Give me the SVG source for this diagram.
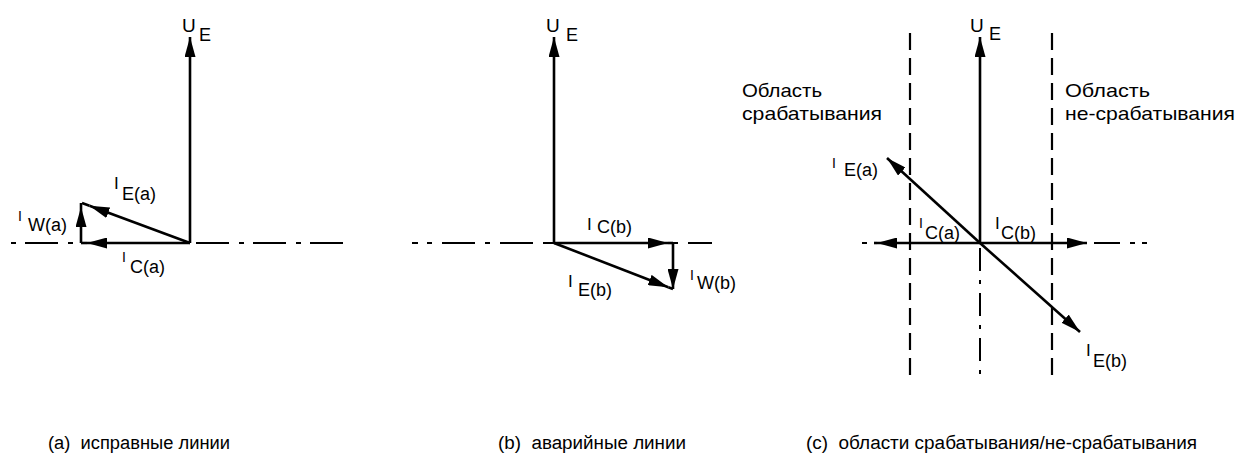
<svg xmlns="http://www.w3.org/2000/svg" width="1241" height="473" viewBox="0 0 1241 473">
<style>
.v{stroke:#000;stroke-width:2.6;fill:none}
.ax{stroke:#000;stroke-width:2;fill:none}
.dd{stroke-dasharray:33 9 5 10}
.dd2{stroke-dasharray:23 9 4 9}
.dsh{stroke:#000;stroke-width:2.2;fill:none;stroke-dasharray:17 8}
text{font-family:"Liberation Sans",Arial,sans-serif;fill:#000}
.l{font-size:18px}
.u{font-size:19px}
.i{font-size:17px}
.s{font-size:14px}
.r{font-size:19px}
.c{font-size:18px}
</style>
<defs>
<marker id="ah" viewBox="0 0 20 11" markerWidth="20" markerHeight="11" refX="20" refY="5.5" orient="auto" markerUnits="userSpaceOnUse">
<path d="M0,0 L20,5.5 L0,11 z" fill="#000"/>
</marker>
</defs>
<rect width="1241" height="473" fill="#fff"/>

<g id="axes">
<path class="ax dd" d="M343,243 H10"/>
<path class="ax" d="M412,243 h6 M427,243 h5 M442,243 h33 M485,243 h5 M500,243 h33 M543,243 h11 M673,243 h5 M688,243 h24"/>
<path class="ax" d="M862,243 h5 M1094,243 H1120 M1130,243 h5 M1142,243 H1147"/>
<path class="ax dd2" d="M980,248 V383"/>
<path class="dsh" d="M910,33 V383"/>
<path class="dsh" d="M1052,33 V383"/>
</g>

<g id="connectors">
<path class="v" d="M190,243 V37" marker-end="url(#ah)"/>
<path class="v" d="M190,243 H87" marker-end="url(#ah)"/>
<path class="v" d="M87,243 H81"/>
<path class="v" d="M81,243 V207" marker-end="url(#ah)"/>
<path class="v" d="M81,207 V203"/>
<path class="v" d="M190,243 L89.5,205.8" marker-end="url(#ah)"/>
<path class="v" d="M89.5,205.8 L82,203"/>
<path class="v" d="M554,243 V37" marker-end="url(#ah)"/>
<path class="v" d="M554,243 H668" marker-end="url(#ah)"/>
<path class="v" d="M668,243 H673"/>
<path class="v" d="M673,243 V289" marker-end="url(#ah)"/>
<path class="v" d="M554,243 L668.3,287.2" marker-end="url(#ah)"/>
<path class="v" d="M668.3,287.2 L673,289"/>
<path class="v" d="M980,243 V37" marker-end="url(#ah)"/>
<path class="v" d="M980,243 H877" marker-end="url(#ah)"/>
<path class="v" d="M877,243 H874"/>
<path class="v" d="M980,243 H1087" marker-end="url(#ah)"/>
<path class="v" d="M980,243 L887,158" marker-end="url(#ah)"/>
<path class="v" d="M980,243 L1080,332" marker-end="url(#ah)"/>
</g>

<g id="labels-a">
<text class="u" x="182" y="32">U</text><text class="l" x="199" y="41">E</text>
<text class="i" x="114" y="189">I</text><text class="l" x="122" y="200">E(a)</text>
<text class="s" x="18" y="221">I</text><text class="l" x="28" y="231">W(a)</text>
<text class="s" x="122" y="262">I</text><text class="l" x="130" y="273">C(a)</text>
</g>

<g id="labels-b">
<text class="u" x="546" y="32">U</text><text class="l" x="566" y="41">E</text>
<text class="i" x="587" y="230">I</text><text class="l" x="597" y="233">C(b)</text>
<text class="i" x="568" y="287">I</text><text class="l" x="578" y="296">E(b)</text>
<text class="s" x="690" y="280">I</text><text class="l" x="697" y="289">W(b)</text>
</g>

<g id="labels-c">
<text class="u" x="970" y="32">U</text><text class="l" x="989" y="40">E</text>
<text class="s" x="832" y="168">I</text><text class="l" x="844" y="176">E(a)</text>
<text class="s" x="919" y="228">I</text><text class="l" x="925" y="239">C(a)</text>
<text class="i" x="995" y="229">I</text><text class="l" x="1001" y="239">C(b)</text>
<text class="i" x="1086" y="356">I</text><text class="l" x="1093" y="367">E(b)</text>
</g>

<g id="region-left">
<text class="r" x="742" y="97" textLength="80" lengthAdjust="spacingAndGlyphs">Область</text>
<text class="r" x="742" y="120" textLength="140" lengthAdjust="spacingAndGlyphs">срабатывания</text>
</g>
<g id="region-right">
<text class="r" x="1065" y="97" textLength="85" lengthAdjust="spacingAndGlyphs">Область</text>
<text class="r" x="1065" y="120" textLength="170" lengthAdjust="spacingAndGlyphs">не-срабатывания</text>
</g>

<g id="captions">
<text class="c" x="48" y="449" textLength="182" lengthAdjust="spacingAndGlyphs" xml:space="preserve">(a)  исправные линии</text>
<text class="c" x="498" y="449" textLength="188" lengthAdjust="spacingAndGlyphs" xml:space="preserve">(b)  аварийные линии</text>
<text class="c" x="806" y="449" textLength="391" lengthAdjust="spacingAndGlyphs" xml:space="preserve">(c)  области срабатывания/не-срабатывания</text>
</g>
</svg>
